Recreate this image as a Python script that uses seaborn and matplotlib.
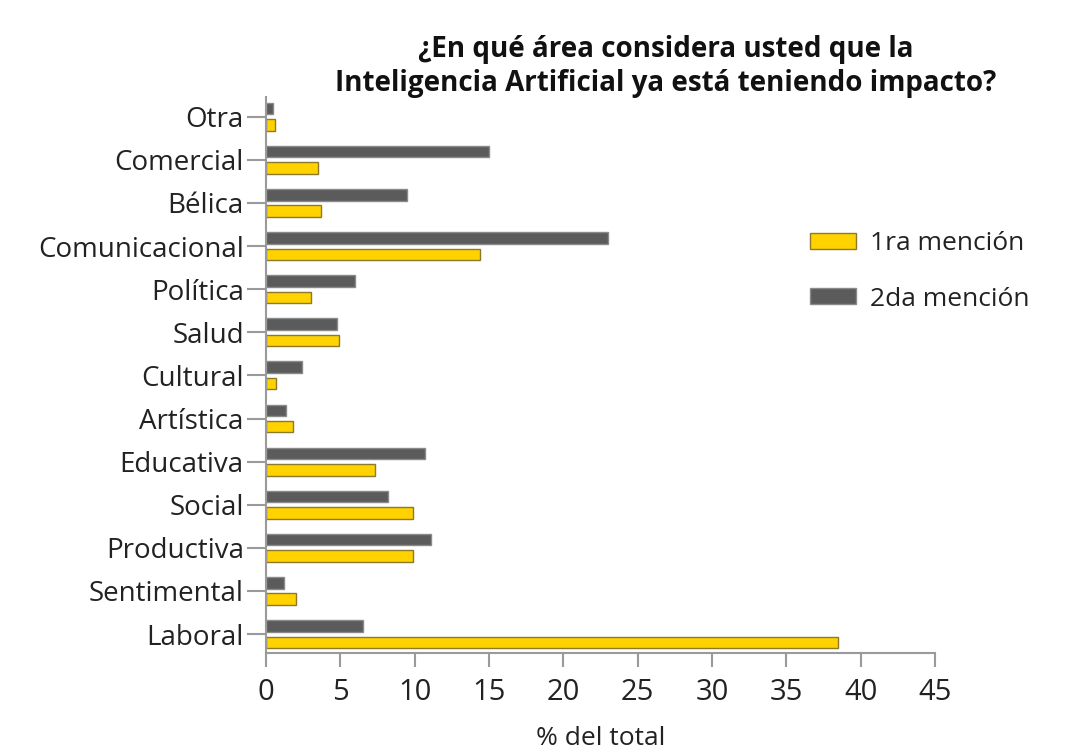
import pandas as pd
import matplotlib.pyplot as plt
import seaborn as sns
from matplotlib.patches import Patch

sns.set_theme(style="white")
plt.rcParams['font.family'] = ['Open Sans', 'DejaVu Sans']

# datos
categorias = ['Otra', 'Comercial', 'Bélica', 'Comunicacional', 'Política', 'Salud',
              'Cultural', 'Artística', 'Educativa', 'Social', 'Productiva',
              'Sentimental', 'Laboral']
primera = [0.6, 3.5, 3.7, 14.4, 3.0, 4.9, 0.7, 1.8, 7.3, 9.9, 9.9, 2.0, 38.5]
segunda = [0.5, 15.0, 9.5, 23.0, 6.0, 4.8, 2.4, 1.35, 10.7, 8.2, 11.1, 1.2, 6.5]
series = ['1ra mención', '2da mención']
ticks_x = [0, 5, 10, 15, 20, 25, 30, 35, 40, 45]

df = pd.DataFrame({
    'area': categorias * 2,
    'valor': primera + segunda,
    'serie': [series[0]] * len(categorias) + [series[1]] * len(categorias),
})

colores = {'1ra mención': '#FFD200', '2da mención': '#5B5B5B'}
bordes = {'1ra mención': '#8C7A2A', '2da mención': '#8A8A8A'}

fig = plt.figure(figsize=(10.67, 7.52), dpi=100)
ax = fig.add_axes([0.2493, 0.1316, 0.6270, 0.7395])

sns.barplot(data=df, y='area', x='valor', hue='serie',
            hue_order=['2da mención', '1ra mención'], order=categorias,
            palette=colores, width=0.76, gap=0.3, orient='h', ax=ax,
            legend=False, saturation=1)

# bordes finos de las barras
for cont, s in zip(ax.containers, ['2da mención', '1ra mención']):
    for b in cont:
        b.set_edgecolor(bordes[s])
        b.set_linewidth(1.0)

ax.set_xlim(0, 45)
ax.set_ylim(12.44, -0.46)
ax.set_xticks(ticks_x)
ax.set_xticklabels([str(t) for t in ticks_x])
ax.set_ylabel('')
ax.set_xlabel('% del total', fontsize=19, color='#222222', labelpad=14)

for s in ['top', 'right']:
    ax.spines[s].set_visible(False)
for s in ['left', 'bottom']:
    ax.spines[s].set_color('#9A9A9A')
    ax.spines[s].set_linewidth(1.5)

ax.tick_params(axis='y', length=14, width=1.5, color='#9A9A9A', labelsize=20,
               labelcolor='#222222', pad=2, left=True)
ax.tick_params(axis='x', length=10, width=1.5, color='#9A9A9A', labelsize=21,
               labelcolor='#222222', pad=8, bottom=True)

fig.suptitle('¿En qué área considera usted que la\nInteligencia Artificial ya está teniendo impacto?',
             x=0.624, y=0.953, fontsize=20, fontweight='bold', color='#111111',
             linespacing=1.2)

handles = [Patch(facecolor=colores[s], edgecolor=bordes[s], linewidth=1.0) for s in series]
fig.legend(handles, series, loc='upper left', bbox_to_anchor=(0.737, 0.724),
           frameon=False, fontsize=19, handlelength=1.75, handleheight=0.55,
           labelspacing=1.15, handletextpad=0.5, labelcolor='#222222')

plt.savefig('out.png', dpi=100)
plt.close()
